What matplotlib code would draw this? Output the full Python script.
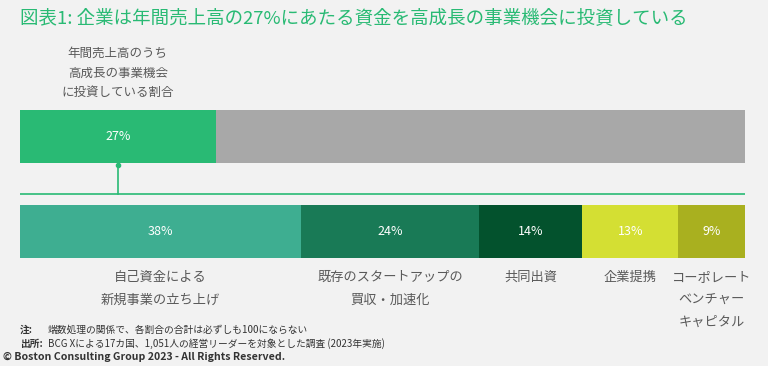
import matplotlib.pyplot as plt

plt.rcParams['font.family'] = ['Noto Sans CJK JP', 'DejaVu Sans']

title = "図表1: 企業は年間売上高の27%にあたる資金を高成長の事業機会に投資している"
top_label = "年間売上高のうち\n高成長の事業機会\nに投資している割合"
share = 27  # percent of annual revenue

categories = ["自己資金による\n新規事業の立ち上げ", "既存のスタートアップの\n買収・加速化",
              "共同出資", "企業提携", "コーポレート\nベンチャー\nキャピタル"]
values = [38, 24, 14, 13, 9]
colors = ["#3eae91", "#197a56", "#03522d", "#d4df33", "#a9b01f"]

green = "#29ba74"
bg = "#f2f2f2"

fig = plt.figure(figsize=(7.68, 3.66), dpi=100, facecolor=bg)
# axes spans the bar area; y in pixel units of the figure (top down)
ax = fig.add_axes([20/768, (366-258)/366, 725/768, 148/366])
ax.set_facecolor(bg)
ax.set_xlim(0, 1)
ax.set_ylim(258, 110)
ax.axis('off')

# top bar
ax.barh(136.5, share/100, height=53, left=0, color=green)
ax.barh(136.5, 1-share/100, height=53, left=share/100, color="#a8a8a8")
ax.text(share/200, 136.5, f"{share}%", color="white", ha='center', va='center', fontsize=9)

# connector
cx = share/200
ax.plot([cx, cx], [164, 194], color=green, lw=1.2)
ax.plot([cx], [165], 'o', color=green, ms=3)
ax.plot([0, 1], [194, 194], color=green, lw=1.2)

# bottom stacked bar (normalised to total)
total = sum(values)
left = 0
for cat, v, c in zip(categories, values, colors):
    w = v/total
    ax.barh(231.5, w, height=53, left=left, color=c)
    ax.text(left+w/2, 231.5, f"{v}%", color="white", ha='center', va='center', fontsize=9)
    ax.text(left+w/2, 271, cat, color="#595959", ha='center', va='top', fontsize=9.5,
            linespacing=1.95, clip_on=False)
    left += w

ax.text(cx, 99, top_label, color="#595959", ha='center', va='bottom', fontsize=9,
        linespacing=1.65, clip_on=False)

fig.text(20/768, 1-18/366, title, color=green, fontsize=13.3, va='center', ha='left')

fig.text(20/768, 1-330/366, "注:", fontsize=7, fontweight='bold', color="#333333", va='center')
fig.text(48/768, 1-330/366, "端数処理の関係で、各割合の合計は必ずしも100にならない", fontsize=7,
         color="#333333", va='center')
fig.text(20/768, 1-344/366, "出所:", fontsize=7, fontweight='bold', color="#333333", va='center')
fig.text(48/768, 1-344/366, "BCG Xによる17カ国、1,051人の経営リーダーを対象とした調査 (2023年実施)",
         fontsize=7, color="#333333", va='center')
fig.text(3/768, 1-357/366, "© Boston Consulting Group 2023 - All Rights Reserved.", fontsize=7.6,
         fontweight='bold', color="#333333", va='center')

fig.savefig("out.png", dpi=100, facecolor=bg)
